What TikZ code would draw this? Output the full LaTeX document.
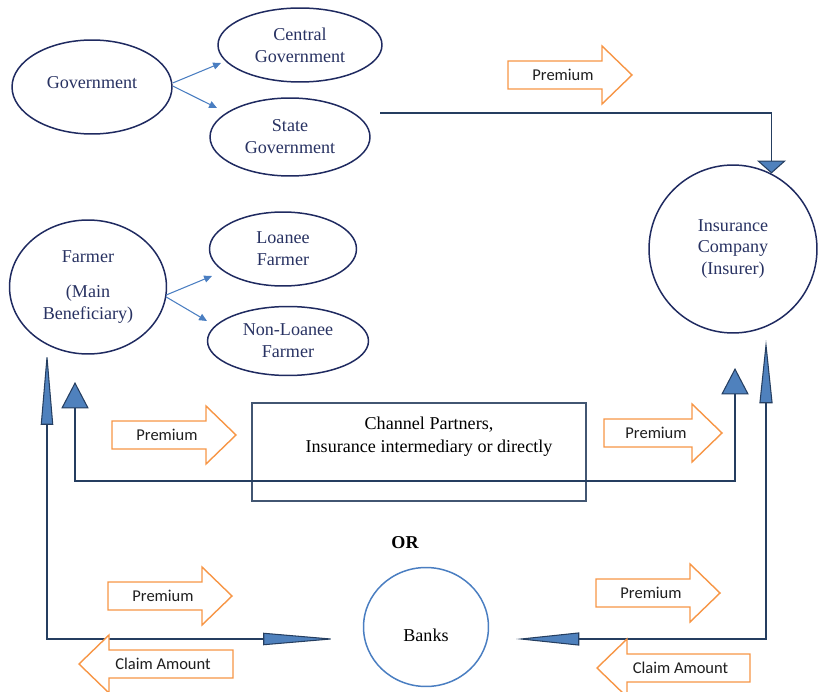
\documentclass[tikz,border=0pt]{standalone}
\usepackage{fontspec}
\setmainfont{Liberation Serif}
\newfontfamily\labelfont{Carlito}
\usepackage{tikz}
\usetikzlibrary{arrows.meta, calc, shapes.geometric}
\definecolor{navy}{RGB}{31,42,96}
\definecolor{navytext}{RGB}{40,50,98}
\definecolor{flowdark}{RGB}{37,62,96}
\definecolor{tipblue}{RGB}{79,129,189}
\definecolor{linkblue}{RGB}{74,126,193}
\definecolor{premorange}{RGB}{247,150,70}
\definecolor{boxgray}{RGB}{66,86,114}
\tikzset{
  party/.style={ellipse, draw=navy, line width=0.85pt, inner sep=0pt,
    align=center, text=navytext, font=\fontsize{10.3}{12.5}\selectfont},
  bank/.style={party, draw=linkblue, text=black},
  channel/.style={rectangle, draw=boxgray, line width=0.8pt},
  channeltext/.style={align=center, text=black, font=\fontsize{10.3}{13}\selectfont},
  premium/.style={draw=premorange, line width=0.8pt, fill=white},
  premiumtext/.style={font=\labelfont\fontsize{9.4}{11}\selectfont, text=black!88},
  split/.style={-{Triangle[length=4.5pt,width=4pt]}, linkblue, line width=0.6pt},
  flow/.style={flowdark, line width=1.1pt},
  longdart/.tip={Triangle[length=42pt,width=7pt,fill=tipblue,line width=0.6pt]},
  shortdart/.tip={Triangle[length=36pt,width=7.4pt,fill=tipblue,line width=0.6pt]},
  wedgetip/.tip={Triangle[length=15pt,width=15.5pt,fill=tipblue,line width=0.6pt]},
  flattip/.tip={Triangle[length=7.4pt,width=16.5pt,fill=tipblue,line width=0.6pt]}
}
% block arrow: name, tail x, tip x, mid y, text
\newcommand{\blockarrow}[5]{%
  \pgfmathsetmacro{\ardir}{sign(#3-#2)}%
  \draw[premium] (#2,#4-14) -- ({#3-30*\ardir},#4-14) -- ({#3-30*\ardir},#4-29)
    -- (#3,#4) -- ({#3-30*\ardir},#4+29) -- ({#3-30*\ardir},#4+14) -- (#2,#4+14) -- cycle;
  \node[premiumtext] (#1) at ({(#2+#3-30*\ardir)/2+8*\ardir},#4) {#5};
}

\begin{document}
\begin{tikzpicture}[x=0.02cm, y=-0.02cm]
  \useasboundingbox (0,0) rectangle (821,692);

  % Parties
  \node[party, minimum width=3.2cm, minimum height=1.88cm, text height=7pt, text depth=5.6pt] (gov) at (92,87) {Government};
  \node[party, minimum width=3.28cm, minimum height=1.48cm] (central) at (300,45) {Central\\Government};
  \node[party, minimum width=3.2cm, minimum height=1.56cm] (state) at (290,137) {State\\Government};
  \node[party, minimum width=3.14cm, minimum height=2.68cm] (farmer) at (88,287) {Farmer\\[7pt](Main\\Beneficiary)};
  \node[party, minimum width=2.94cm, minimum height=1.48cm] (loanee) at (283,249) {Loanee\\Farmer};
  \node[party, minimum width=3.22cm, minimum height=1.38cm] (nonloanee) at (288,341) {Non-Loanee\\Farmer};
  \node[party, circle, minimum size=3.36cm] (insurer) at (733,249) {Insurance\\Company\\(Insurer)};
  \node[bank, minimum width=2.5cm, minimum height=2.38cm, text height=16pt, text depth=0pt] (banks) at (426,627) {Banks};

  % Channel partners
  \node[channel, minimum width=6.68cm, minimum height=1.96cm] (channel) at (419,452) {};
  \node[channeltext] (channeltxt) at (429,437) {Channel Partners,\\Insurance intermediary or directly};
  \node[font=\fontsize{10.3}{12}\selectfont\bfseries] (or) at (405,543) {OR};

  % Splits
  \coordinate (cgin) at (221,63);
  \coordinate (sgin) at (217,108);
  \coordinate (lfin) at (212,276);
  \coordinate (nlin) at (207,321);
  \draw[split] ($(gov.east)+(0,-4)$) -- (cgin);
  \draw[split] ($(gov.east)+(0,-1)$) -- (sgin);
  \draw[split] ($(farmer.east)+(-1,8)$) -- (lfin);
  \draw[split] ($(farmer.east)+(-1,10)$) -- (nlin);

  % Government to insurer
  \coordinate (stateout) at (380,113);
  \draw[flow, -flattip] (stateout) -| (insurer.63);

  % Loop through channel partners
  \coordinate (farmerin) at (75,382);
  \coordinate (loopright) at (735,481);
  \coordinate (insurerin) at (735,368);
  \draw[flow, wedgetip-wedgetip] (farmerin) |- (loopright) -- (insurerin);

  % Bank paths
  \coordinate (farmerbank) at (47,351);
  \coordinate (bankleft) at (337,639);
  \coordinate (insurerbank) at (766,340);
  \coordinate (bankright) at (516,639);
  \draw[flow, longdart-longdart] (farmerbank) |- (bankleft);
  \draw[flow, shortdart-shortdart] (insurerbank) |- (bankright);

  % Premium and claim arrows
  \blockarrow{premtop}{508}{632}{75}{Premium}
  \blockarrow{premleft}{112}{236}{435}{Premium}
  \blockarrow{premright}{604}{722}{433}{Premium}
  \blockarrow{prembankl}{108}{232}{596}{Premium}
  \blockarrow{prembankr}{596}{720}{593}{Premium}
  \blockarrow{claiml}{233}{79}{664}{Claim Amount}
  \blockarrow{claimr}{750}{597}{668}{Claim Amount}
\end{tikzpicture}
\end{document}
